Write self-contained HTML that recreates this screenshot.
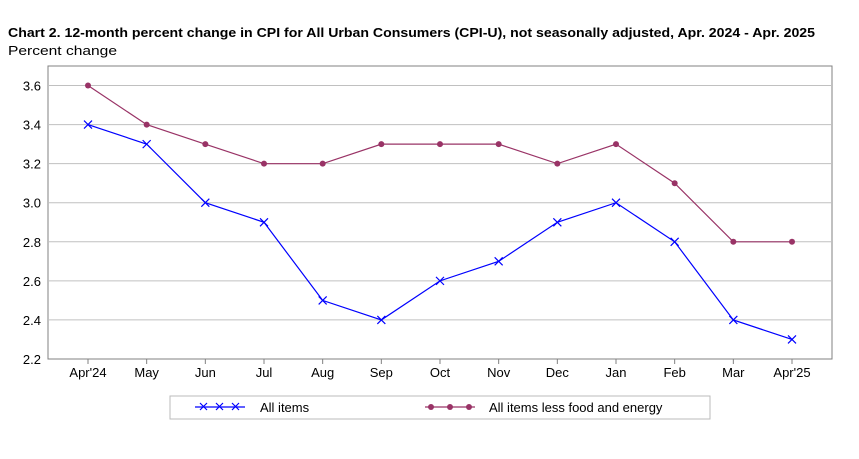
<!DOCTYPE html>
<html><head><meta charset="utf-8"><style>
body{margin:0;background:#fff;font-family:"Liberation Sans",sans-serif;}
svg text{font-family:"Liberation Sans",sans-serif;}
</style></head><body>
<svg width="859" height="454">
<text x="8" y="37" font-size="13" font-weight="bold" fill="#000" textLength="807" lengthAdjust="spacingAndGlyphs">Chart 2. 12-month percent change in CPI for All Urban Consumers (CPI-U), not seasonally adjusted, Apr. 2024 - Apr. 2025</text>
<text x="8" y="55" font-size="13" fill="#000" textLength="109" lengthAdjust="spacingAndGlyphs">Percent change</text>
<g id="grid"></g><g id="axes"></g><g id="series"></g>
<g>
<rect x="170" y="396" width="540" height="23" fill="#fff" stroke="#bbb"/>
<line x1="195" y1="407" x2="245" y2="407" stroke="#0000ff" stroke-width="1.2"/>
<g stroke="#0000ff" stroke-width="1.2">
<path d="M200 403 l7 7 M207 403 l-7 7"/><path d="M216 403 l7 7 M223 403 l-7 7"/><path d="M232 403 l7 7 M239 403 l-7 7"/></g>
<text x="260" y="412" font-size="13">All items</text>
<line x1="425" y1="407" x2="475" y2="407" stroke="#993366" stroke-width="1.2"/>
<circle cx="431" cy="407" r="3" fill="#993366"/><circle cx="450" cy="407" r="3" fill="#993366"/><circle cx="469" cy="407" r="3" fill="#993366"/>
<text x="489" y="412" font-size="13">All items less food and energy</text>
</g>
</svg>
<script>
const categories=["Apr'24","May","Jun","Jul","Aug","Sep","Oct","Nov","Dec","Jan","Feb","Mar","Apr'25"];
const allItems=[3.4,3.3,3.0,2.9,2.5,2.4,2.6,2.7,2.9,3.0,2.8,2.4,2.3];
const core=[3.6,3.4,3.3,3.2,3.2,3.3,3.3,3.3,3.2,3.3,3.1,2.8,2.8];
const yTicks=["2.2","2.4","2.6","2.8","3.0","3.2","3.4","3.6"];
const NS="http://www.w3.org/2000/svg";
const L=48,R=832,T=66,B=359,yMin=2.2,yMax=3.7;
const x=i=>88+i*(792-88)/(categories.length-1);
const y=v=>B-(v-yMin)/(yMax-yMin)*(B-T);
function mk(t,a,p){const e=document.createElementNS(NS,t);for(const k in a)e.setAttribute(k,a[k]);p.appendChild(e);return e;}
const grid=document.getElementById('grid'),axes=document.getElementById('axes'),ser=document.getElementById('series');
mk('rect',{x:L,y:T,width:R-L,height:B-T,fill:'#fff',stroke:'#808080'},grid);
yTicks.forEach(t=>{const v=parseFloat(t);const yy=y(v);
if(v>yMin){const g=mk('line',{x1:L,x2:R,y1:yy,y2:yy,stroke:'#c0c0c0'},grid);}
const tx=mk('text',{x:L-7,y:yy+5,'text-anchor':'end','font-size':13},axes);tx.textContent=t;

});
mk('line',{x1:L,x2:R,y1:B,y2:B,stroke:'#808080'},axes);
categories.forEach((c,i)=>{mk('line',{x1:x(i),x2:x(i),y1:B,y2:B+5,stroke:'#808080'},axes);
const tx=mk('text',{x:x(i),y:B+18,'text-anchor':'middle','font-size':13},axes);tx.textContent=c;

});
function line(vals,col,name){const p=mk('polyline',{points:vals.map((v,i)=>x(i)+','+y(v)).join(' '),fill:'none',stroke:col,'stroke-width':1.2},ser);

}
line(core,'#993366','core');line(allItems,'#0000ff','all-items');
core.forEach((v,i)=>{const c=mk('circle',{cx:x(i),cy:y(v),r:3,fill:'#993366'},ser);

});
allItems.forEach((v,i)=>{const X=x(i),Y=y(v);const p=mk('path',{d:`M${X-4} ${Y-4}L${X+4} ${Y+4}M${X+4} ${Y-4}L${X-4} ${Y+4}`,stroke:'#0000ff','stroke-width':1.2},ser);

});
</script>
</body></html>
